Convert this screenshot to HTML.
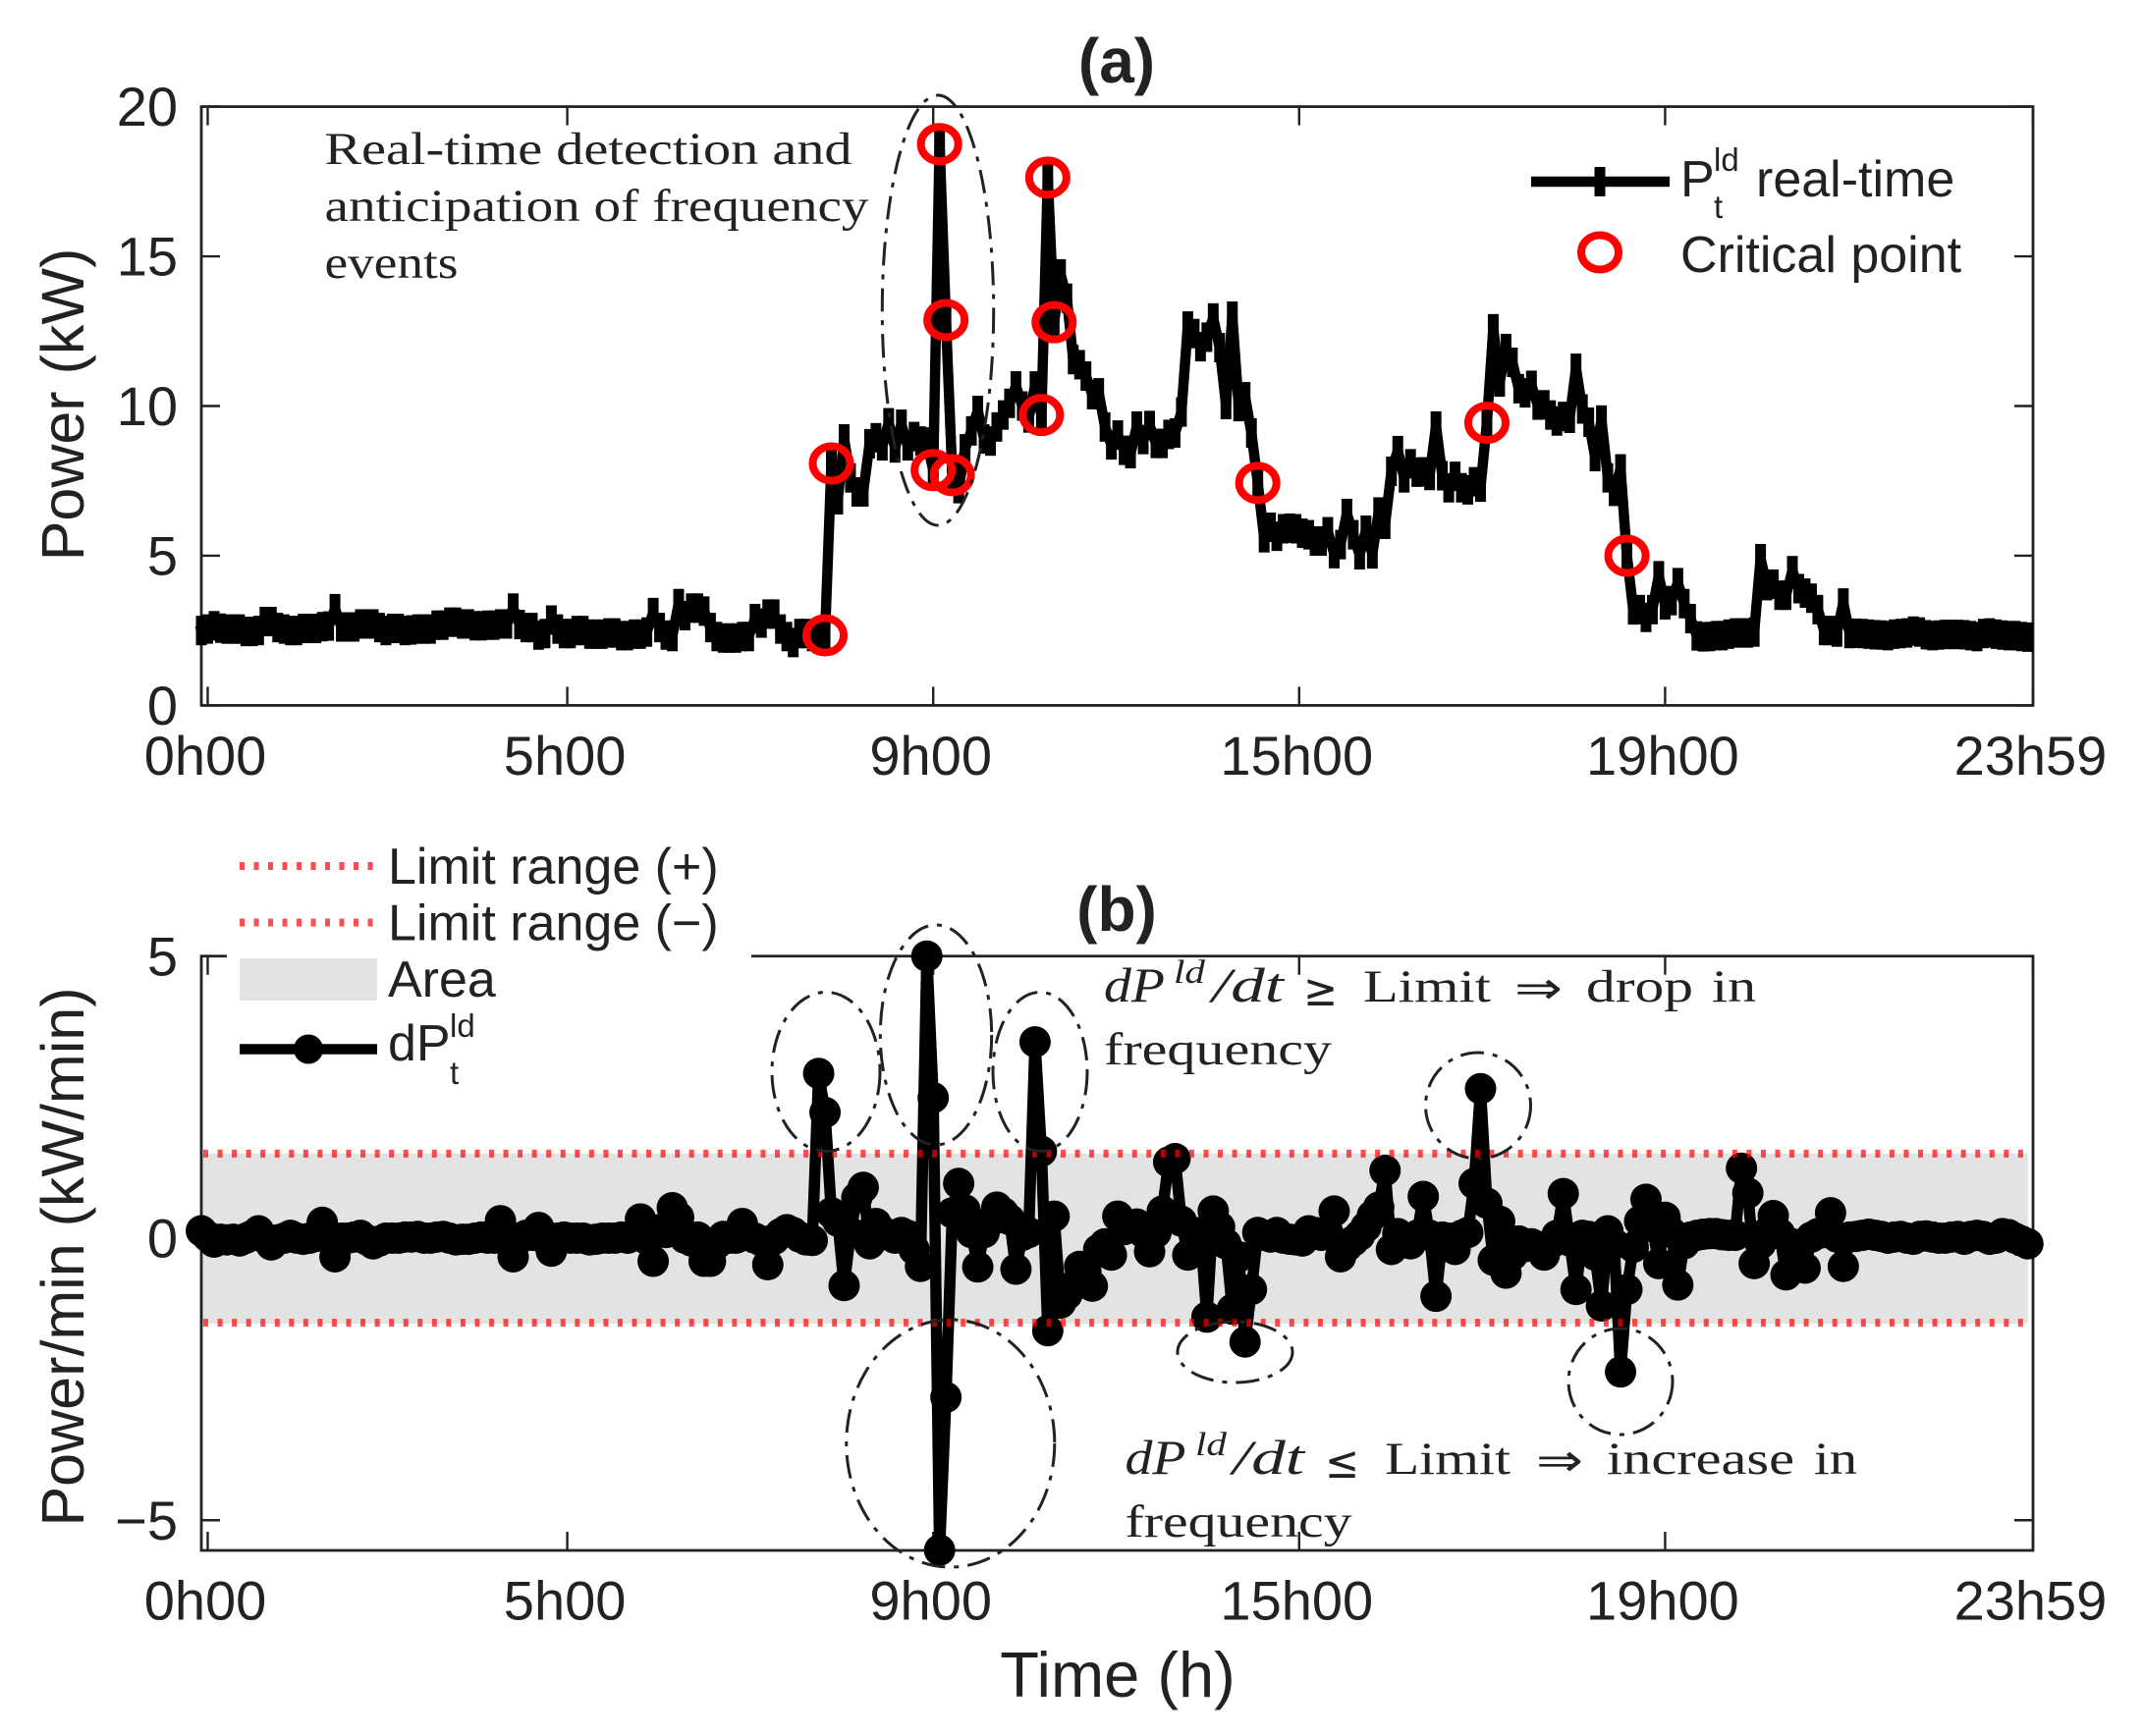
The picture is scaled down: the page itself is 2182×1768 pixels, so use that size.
<!DOCTYPE html>
<html lang="en">
<head>
<meta charset="utf-8">
<title>Real-time power and power gradient</title>
<style>
html,body{margin:0;padding:0;background:#fff;}
svg{display:block;}
text{font-family:"Liberation Sans",Arial,sans-serif;fill:#222;}
.serif{font-family:"Liberation Serif","DejaVu Serif",serif;font-size:47px;}
.ital{font-family:"Liberation Serif","DejaVu Serif",serif;font-style:italic;font-size:50px;}
.sym{font-family:"DejaVu Sans",sans-serif;font-size:46px;}
.leg{font-size:52px;}
.sub{font-size:33px;}
.tick{font-size:56px;}
.ytitle{font-size:61px;}
</style>
</head>
<body>
<svg id="chart" xmlns="http://www.w3.org/2000/svg" width="2182" height="1768" viewBox="0 0 2182 1768">
  <rect x="0" y="0" width="2182" height="1768" fill="#fff"/>
  <g id="under-b"></g>
  <g id="axes"></g>
  <rect x="231" y="955" width="534" height="45" fill="#fff"/>
  <g id="series-a"></g>
  <g id="series-b"></g>
  <g id="limits"></g>
  <g id="crit"></g>

  <g fill="none" stroke="#222" stroke-width="3" stroke-dasharray="24 9 5 9">
    <ellipse cx="955" cy="316" rx="56.7" ry="219"/>
    <ellipse cx="841" cy="1091.5" rx="55" ry="81"/>
    <ellipse cx="953" cy="1054" rx="56.7" ry="112"/>
    <ellipse cx="1059" cy="1091.5" rx="48" ry="81"/>
    <ellipse cx="967.8" cy="1470" rx="106" ry="126"/>
    <ellipse cx="1257.5" cy="1377" rx="58.5" ry="31"/>
    <ellipse cx="1650" cy="1407" rx="53" ry="54"/>
    <ellipse cx="1505" cy="1126" rx="53.5" ry="54"/>
  </g>

  <!-- Titles -->
  <text x="1137" y="84" text-anchor="middle" font-size="64" font-weight="bold">(a)</text>
  <text x="1137" y="948" text-anchor="middle" font-size="64" font-weight="bold">(b)</text>

  <!-- Axis titles -->
  <text class="ytitle" transform="translate(85,412) rotate(-90)" text-anchor="middle">Power (kW)</text>
  <text class="ytitle" transform="translate(85,1280) rotate(-90)" text-anchor="middle">Power/min (kW/min)</text>
  <text x="1138" y="1728" text-anchor="middle" font-size="65">Time (h)</text>

  <!-- Annotation a -->
  <g>
    <text class="serif" x="330.5" y="167" textLength="537" lengthAdjust="spacingAndGlyphs">Real-time detection and</text>
    <text class="serif" x="330.5" y="225" textLength="554" lengthAdjust="spacingAndGlyphs">anticipation of frequency</text>
    <text class="serif" x="330.5" y="283" textLength="136" lengthAdjust="spacingAndGlyphs">events</text>
  </g>

  <!-- Annotation b upper -->
  <g>
    <text class="ital" x="1124" y="1020" textLength="62" lengthAdjust="spacingAndGlyphs">dP</text>
    <text class="ital" x="1195" y="1001" style="font-size:34px" textLength="32" lengthAdjust="spacingAndGlyphs">ld</text>
    <text class="ital" x="1234" y="1020" textLength="73" lengthAdjust="spacingAndGlyphs">/dt</text>
    <text class="sym" x="1327" y="1024" textLength="35" lengthAdjust="spacingAndGlyphs">≥</text>
    <text class="serif" x="1388" y="1020" textLength="130" lengthAdjust="spacingAndGlyphs">Limit</text>
    <text class="sym" x="1542" y="1022" textLength="49" lengthAdjust="spacingAndGlyphs">⇒</text>
    <text class="serif" x="1615" y="1020" textLength="109" lengthAdjust="spacingAndGlyphs">drop</text>
    <text class="serif" x="1743" y="1020" textLength="45" lengthAdjust="spacingAndGlyphs">in</text>
    <text class="serif" x="1124" y="1084" textLength="232" lengthAdjust="spacingAndGlyphs">frequency</text>
  </g>

  <!-- Annotation b lower -->
  <g>
    <text class="ital" x="1145.5" y="1501" textLength="62" lengthAdjust="spacingAndGlyphs">dP</text>
    <text class="ital" x="1217" y="1482" style="font-size:34px" textLength="32" lengthAdjust="spacingAndGlyphs">ld</text>
    <text class="ital" x="1255" y="1501" textLength="73" lengthAdjust="spacingAndGlyphs">/dt</text>
    <text class="sym" x="1349" y="1505" textLength="35" lengthAdjust="spacingAndGlyphs">≤</text>
    <text class="serif" x="1410" y="1501" textLength="128" lengthAdjust="spacingAndGlyphs">Limit</text>
    <text class="sym" x="1564" y="1503" textLength="48" lengthAdjust="spacingAndGlyphs">⇒</text>
    <text class="serif" x="1636" y="1501" textLength="191" lengthAdjust="spacingAndGlyphs">increase</text>
    <text class="serif" x="1847" y="1501" textLength="44" lengthAdjust="spacingAndGlyphs">in</text>
    <text class="serif" x="1145.5" y="1565" textLength="231" lengthAdjust="spacingAndGlyphs">frequency</text>
  </g>

  <!-- Legend a -->
  <g>
    <g>
      <line x1="1559" y1="185" x2="1700" y2="185" stroke="#000" stroke-width="10.5"/>
      <rect x="1623.5" y="170" width="11" height="30" fill="#000"/>
      <text class="leg" x="1711" y="200">P</text>
      <text class="sub" x="1745" y="174">ld</text>
      <text class="sub" x="1745" y="222">t</text>
      <text class="leg" x="1788" y="200">real-time</text>
    </g>
    <g>
      <ellipse cx="1629" cy="257" rx="19" ry="17.5" fill="none" stroke="#f00" stroke-width="8"/>
      <text class="leg" x="1711" y="277">Critical point</text>
    </g>
  </g>

  <!-- Legend b -->
  <g>
    <g>
      <line x1="244" y1="882" x2="382" y2="882" stroke="#f00" stroke-opacity=".7" stroke-width="8" stroke-dasharray="5 9.5"/>
      <text class="leg" x="395" y="900">Limit range (+)</text>
    </g>
    <g>
      <line x1="244" y1="939.5" x2="382" y2="939.5" stroke="#f00" stroke-opacity=".7" stroke-width="8" stroke-dasharray="5 9.5"/>
      <text class="leg" x="395" y="957.5">Limit range (−)</text>
    </g>
    <g>
      <rect x="244" y="976" width="140" height="43" fill="#e3e3e3"/>
      <text class="leg" x="395" y="1015">Area</text>
    </g>
    <g>
      <line x1="244" y1="1068.5" x2="384" y2="1068.5" stroke="#000" stroke-width="10.5"/>
      <circle cx="314" cy="1068.5" r="15" fill="#000"/>
      <text class="leg" x="395" y="1080">dP</text>
      <text class="sub" x="458" y="1056">ld</text>
      <text class="sub" x="458" y="1104">t</text>
    </g>
  </g>
</svg>

<script>
// ---- chart data (one value per 5-minute sample) ----
const powerValues = [
2.50,2.55,2.66,2.58,2.55,2.55,2.55,2.47,2.47,2.50,
2.80,2.80,2.60,2.55,2.50,2.50,2.57,2.57,2.57,2.63,
2.65,3.23,2.62,2.62,2.62,2.72,2.72,2.72,2.60,2.50,
2.57,2.57,2.50,2.52,2.55,2.55,2.55,2.68,2.68,2.78,
2.78,2.72,2.72,2.66,2.66,2.68,2.68,2.72,2.72,3.25,
2.70,2.60,2.60,2.35,2.40,2.85,2.55,2.40,2.40,2.50,
2.50,2.38,2.38,2.38,2.42,2.42,2.33,2.33,2.38,2.38,
2.45,3.10,2.60,2.35,2.30,3.40,3.00,3.25,3.25,3.15,
2.60,2.30,2.25,2.25,2.25,2.30,2.30,2.90,2.75,3.05,
3.05,2.55,2.30,2.10,2.40,2.40,2.30,2.40,2.34,8.08,
6.87,8.90,7.60,7.13,7.13,8.74,8.94,8.67,9.44,8.60,
9.39,8.67,8.98,8.83,8.80,7.86,18.75,12.87,7.69,7.24,
8.57,9.17,9.85,8.90,8.83,9.30,9.70,10.09,10.67,10.00,
9.60,10.67,9.70,17.63,12.80,14.41,13.60,11.55,11.38,11.00,
10.38,10.44,9.30,8.70,9.03,8.52,8.41,9.33,8.88,9.35,
8.75,8.75,9.05,9.10,9.80,12.67,12.42,11.98,12.30,12.94,
11.95,10.05,13.00,9.98,10.31,9.10,7.43,5.60,5.95,5.65,
5.90,5.92,5.90,5.75,5.70,5.49,5.49,5.80,5.07,5.37,
6.41,5.70,5.03,5.85,5.06,6.46,6.05,7.82,8.51,7.60,
8.07,7.79,7.80,7.68,9.33,7.67,7.27,7.65,7.27,7.20,
7.47,7.29,9.44,12.58,10.80,11.92,11.46,10.58,10.44,10.69,
10.03,10.04,9.70,9.50,9.65,9.59,11.26,9.90,9.46,8.31,
9.53,7.60,7.15,7.90,5.00,3.19,3.20,2.94,3.20,4.33,
3.36,3.50,4.10,3.40,2.90,2.32,2.29,2.30,2.33,2.33,
2.38,2.42,2.42,2.42,2.45,4.90,4.00,4.05,3.68,3.68,
4.50,3.90,3.75,3.58,3.20,2.50,2.50,2.45,3.42,2.40,
2.41,2.40,2.38,2.36,2.35,2.33,2.38,2.40,2.42,2.48,
2.45,2.36,2.33,2.35,2.37,2.37,2.37,2.36,2.33,2.30,
2.40,2.42,2.38,2.35,2.33,2.33,2.30,2.28
];
const gradientValues = [
0.13,0.03,-0.07,-0.02,-0.03,-0.02,-0.05,0,0.05,0.13,
0,-0.12,-0.03,0,0.05,0,-0.02,0,0.03,0.28,
0.03,-0.33,0,0,0.02,0.05,-0.03,-0.1,-0.05,0,
0,0,0.02,0.02,0.03,0,0,0.02,0.03,0,
-0.03,-0.02,-0.02,0,0.02,0,0,0.31,0,-0.33,
0,0.05,0.05,0.19,-0.02,-0.23,0,0.02,0,0,
0,-0.03,-0.02,0,0,0,0.02,0,0.05,0.34,
-0.02,-0.41,0.15,0.1,0.54,0.37,0,-0.05,0.02,-0.41,
-0.41,-0.1,0.03,0,0,0.26,0.05,0,-0.05,-0.47,
-0.02,0.08,0.15,0.1,0.02,-0.03,-0.04,2.92,2.23,0.45,
0.3,-0.84,0.1,0.72,0.9,-0.1,0.26,0.12,0.05,0,
0.1,0.05,-0.2,-0.5,5.0,2.49,-5.53,-2.82,0.45,0.97,
0.5,0.1,-0.51,0.1,0.3,0.55,0.45,0.33,-0.55,0.05,
0.1,3.48,1.54,-1.64,0.39,-1.15,-1.0,-0.85,-0.5,-0.6,
-0.85,-0.2,-0.1,-0.3,0.39,0.15,0.2,0.25,0.1,-0.24,
0.1,0.48,1.35,1.41,0.3,-0.3,0.1,0.1,-1.4,0.48,
0.2,-0.1,-1.26,-0.33,-1.84,-0.91,0.1,0.05,0.02,0.1,
0,-0.02,-0.03,-0.05,0.13,0.1,0.05,0.1,0.48,-0.33,
-0.15,-0.05,0.05,0.2,0.4,0.55,1.2,-0.2,0.08,-0.05,
-0.1,0.05,0.74,0.05,-1.03,0.02,0,-0.2,0.05,0.1,
0.97,2.65,0.62,-0.39,0.3,-0.62,-0.3,-0.05,-0.15,-0.1,
-0.15,-0.3,-0.1,0.05,0.79,-0.05,-0.91,0.05,0.03,-0.3,
-1.2,0.13,-0.1,-2.37,-0.91,-0.16,0.3,0.69,0.2,-0.45,
0.37,0.1,-0.83,-0.1,0.02,0.05,0.07,0.08,0.08,0.06,
0.05,0.05,1.24,0.8,-0.45,-0.1,0.1,0.4,0.08,-0.65,
-0.1,-0.2,-0.53,0.02,0.08,0.1,0.45,0.02,-0.5,0.02,
0.03,0.05,0.07,0.05,0.03,0,0.02,0.03,0,-0.02,
0.03,0.04,0.02,0,0,0.02,0.03,-0.02,0.03,0.05,
0.03,-0.02,0,0.08,0.06,0,-0.05,-0.1
];
const criticalSamples = [98,99,115,116,117,118,132,133,134,166,202,224];
const timeTickSamples = [1,57.5,115,172.5,230,287.8];
const timeTickLabels = ["0h00","5h00","9h00","15h00","19h00","23h59"];
const powerTicks = [0,5,10,15,20];
const powerTickLabels = ["0","5","10","15","20"];
const gradientTicks = [-5,0,5];
const gradientTickLabels = ["−5","0","5"];
const limitRange = [1.5,-1.5];

// ---- axis functions ----
function xPos(i){ return 205 + 6.48 * i; }
function yPower(v){ return 718.4 - 30.49 * v; }
function yGradient(v){ return 1261 - 57.45 * v; }

const NS = "http://www.w3.org/2000/svg";
function mk(tag, parent, attrs){
  const el = document.createElementNS(NS, tag);
  for (const k in attrs) el.setAttribute(k, attrs[k]);
  parent.appendChild(el);
  return el;
}

const axesG = document.getElementById("axes");
const underB = document.getElementById("under-b");
const seriesA = document.getElementById("series-a");
const seriesB = document.getElementById("series-b");
const limitsG = document.getElementById("limits");
const critG = document.getElementById("crit");

const X_RIGHT = 2070, X_LEFT = 205;

// shaded area
const areaRect = mk("rect", underB, {x:xPos(0), y:yGradient(limitRange[0]), width:xPos(287)-xPos(0), height:yGradient(limitRange[1])-yGradient(limitRange[0])+1, fill:"#e3e3e3"});



function drawPanel(name, top, bottom, yFn, yTicks, yLabels){
  const frame = mk("rect", axesG, {x:X_LEFT, y:top, width:X_RIGHT-X_LEFT, height:bottom-top, fill:"none", stroke:"#222", "stroke-width":2.8});
  
  
  timeTickSamples.forEach(function(s, k){
    const x = xPos(s);
    const t1 = mk("line", axesG, {x1:x, y1:bottom, x2:x, y2:bottom-19, stroke:"#222", "stroke-width":2.4});
    
    
    const t2 = mk("line", axesG, {x1:x, y1:top, x2:x, y2:top+19, stroke:"#222", "stroke-width":2.4});
    
    
    const lab = mk("text", axesG, {x:x-2.5, y:bottom+70.5, "text-anchor":"middle", "class":"tick"});
    lab.textContent = timeTickLabels[k];
    
    
  });
  yTicks.forEach(function(v, k){
    const y = yFn(v);
    const t1 = mk("line", axesG, {x1:X_LEFT, y1:y, x2:X_LEFT+19, y2:y, stroke:"#222", "stroke-width":2.4});
    
    
    const t2 = mk("line", axesG, {x1:X_RIGHT, y1:y, x2:X_RIGHT-19, y2:y, stroke:"#222", "stroke-width":2.4});
    
    
    const lab = mk("text", axesG, {x:181, y:y+19.5, "text-anchor":"end", "class":"tick"});
    lab.textContent = yLabels[k];
    
    
  });
}
drawPanel("panel-a", yPower(20), yPower(0), yPower, powerTicks, powerTickLabels);
drawPanel("panel-b", yGradient(5), 1579, yGradient, gradientTicks, gradientTickLabels);

// power series: thick line plus a tall "+" marker per sample
const powerLine = mk("polyline", seriesA, {
  points: powerValues.map(function(v,i){ return xPos(i).toFixed(2)+","+yPower(v).toFixed(2); }).join(" "),
  fill:"none", stroke:"#000", "stroke-width":10.5, "stroke-linejoin":"round", "stroke-linecap":"square"
});


powerValues.forEach(function(v,i){
  const m = mk("rect", seriesA, {x:xPos(i)-5.5, y:yPower(v)-15, width:11, height:30, fill:"#000"});
  
  
});

// gradient series: line plus dots
const gradLine = mk("polyline", seriesB, {
  points: gradientValues.map(function(v,i){ return xPos(i).toFixed(2)+","+yGradient(v).toFixed(2); }).join(" "),
  fill:"none", stroke:"#000", "stroke-width":11.5, "stroke-linejoin":"round"
});


gradientValues.forEach(function(v,i){
  const d = mk("circle", seriesB, {cx:xPos(i), cy:yGradient(v), r:16, fill:"#000"});
  
  
});

// limit lines
limitRange.forEach(function(v){
  const l = mk("line", limitsG, {x1:xPos(0)+2, y1:yGradient(v), x2:xPos(287), y2:yGradient(v), stroke:"#f00", "stroke-opacity":0.7, "stroke-width":8, "stroke-dasharray":"5 9.55"});
  
  
});

// critical points
criticalSamples.forEach(function(s){
  const c = mk("ellipse", critG, {cx:xPos(s), cy:yPower(powerValues[s]), rx:19, ry:17.5, fill:"none", stroke:"#f00", "stroke-width":8});
  
  
});
</script>
</body>
</html>
